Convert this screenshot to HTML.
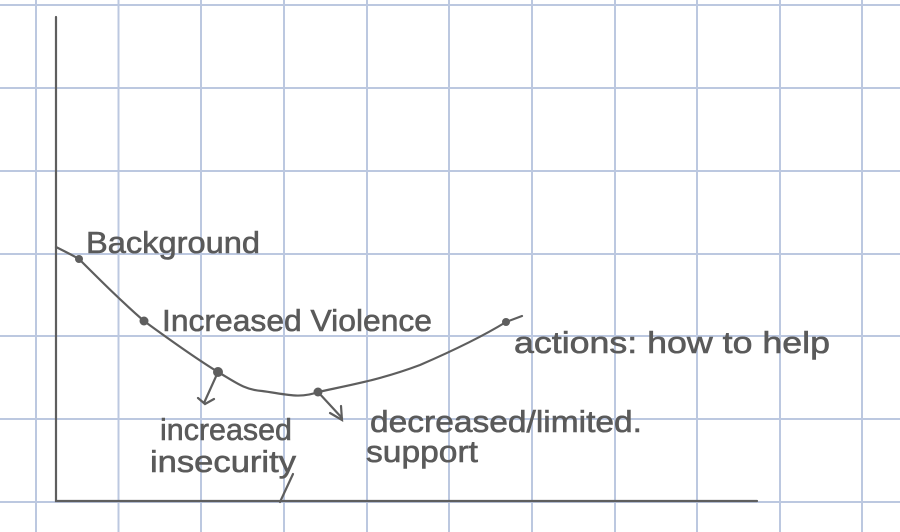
<!DOCTYPE html>
<html><head><style>
html,body{margin:0;padding:0;background:#fff;}
svg{display:block}
text{font-family:"Liberation Sans Narrow","Liberation Sans",sans-serif;fill:#5a5a5a;stroke:#5a5a5a;stroke-width:0.6;}
</style></head><body>
<svg width="900" height="532" viewBox="0 0 900 532" xmlns="http://www.w3.org/2000/svg">
<g stroke="#bcc8e0" stroke-width="2">
<line x1="36" y1="0" x2="36" y2="532"/><line x1="118.5" y1="0" x2="118.5" y2="532"/>
<line x1="201" y1="0" x2="201" y2="532"/><line x1="284" y1="0" x2="284" y2="532"/>
<line x1="367" y1="0" x2="367" y2="532"/><line x1="449" y1="0" x2="449" y2="532"/>
<line x1="532" y1="0" x2="532" y2="532"/><line x1="615" y1="0" x2="615" y2="532"/>
<line x1="697" y1="0" x2="697" y2="532"/><line x1="780" y1="0" x2="780" y2="532"/>
<line x1="862" y1="0" x2="862" y2="532"/>
<line x1="0" y1="5" x2="900" y2="5"/><line x1="0" y1="88" x2="900" y2="88"/>
<line x1="0" y1="171" x2="900" y2="171"/><line x1="0" y1="254" x2="900" y2="254"/>
<line x1="0" y1="336" x2="900" y2="336"/><line x1="0" y1="419" x2="900" y2="419"/>
<line x1="0" y1="502" x2="900" y2="502"/>
</g>
<g stroke="#5e5e5e" fill="none" stroke-width="2.2" stroke-linecap="round">
<polyline points="56,17 56,501 757,501"/>
<path d="M56,247 C66,252 74,256 79,259 C100,280 120,300 144,321 C170,340 195,358 218,372 C235,382 245,390 262,391 C285,394 300,399 318,392 C350,385 380,380 420,365 C450,352 480,338 506,322 L522,316"/>
<path d="M218,372 L204,403 M198,398 L205,404 L214,399"/>
<path d="M318,392 L342,418 M330,413 L342,420 L341,406"/>
<path d="M293,474 L280,502"/>
</g>
<g fill="#5e5e5e">
<circle cx="79" cy="259" r="4"/><circle cx="144" cy="321" r="4.5"/>
<circle cx="218" cy="372" r="5"/><circle cx="318" cy="392" r="4.5"/><circle cx="506" cy="322" r="4"/>
</g>
<text x="86" y="253" font-size="31" textLength="174" lengthAdjust="spacingAndGlyphs">Background</text>
<text x="162" y="331" font-size="31" textLength="270" lengthAdjust="spacingAndGlyphs">Increased Violence</text>
<text x="514" y="353" font-size="31" textLength="316" lengthAdjust="spacingAndGlyphs">actions: how to help</text>
<text x="160" y="440" font-size="31" textLength="132" lengthAdjust="spacingAndGlyphs">increased</text>
<text x="150" y="472" font-size="31" textLength="146" lengthAdjust="spacingAndGlyphs">insecurity</text>
<text x="370" y="432" font-size="31" textLength="272" lengthAdjust="spacingAndGlyphs">decreased/limited.</text>
<text x="366" y="462" font-size="31" textLength="112" lengthAdjust="spacingAndGlyphs">support</text>
</svg>
</body></html>
